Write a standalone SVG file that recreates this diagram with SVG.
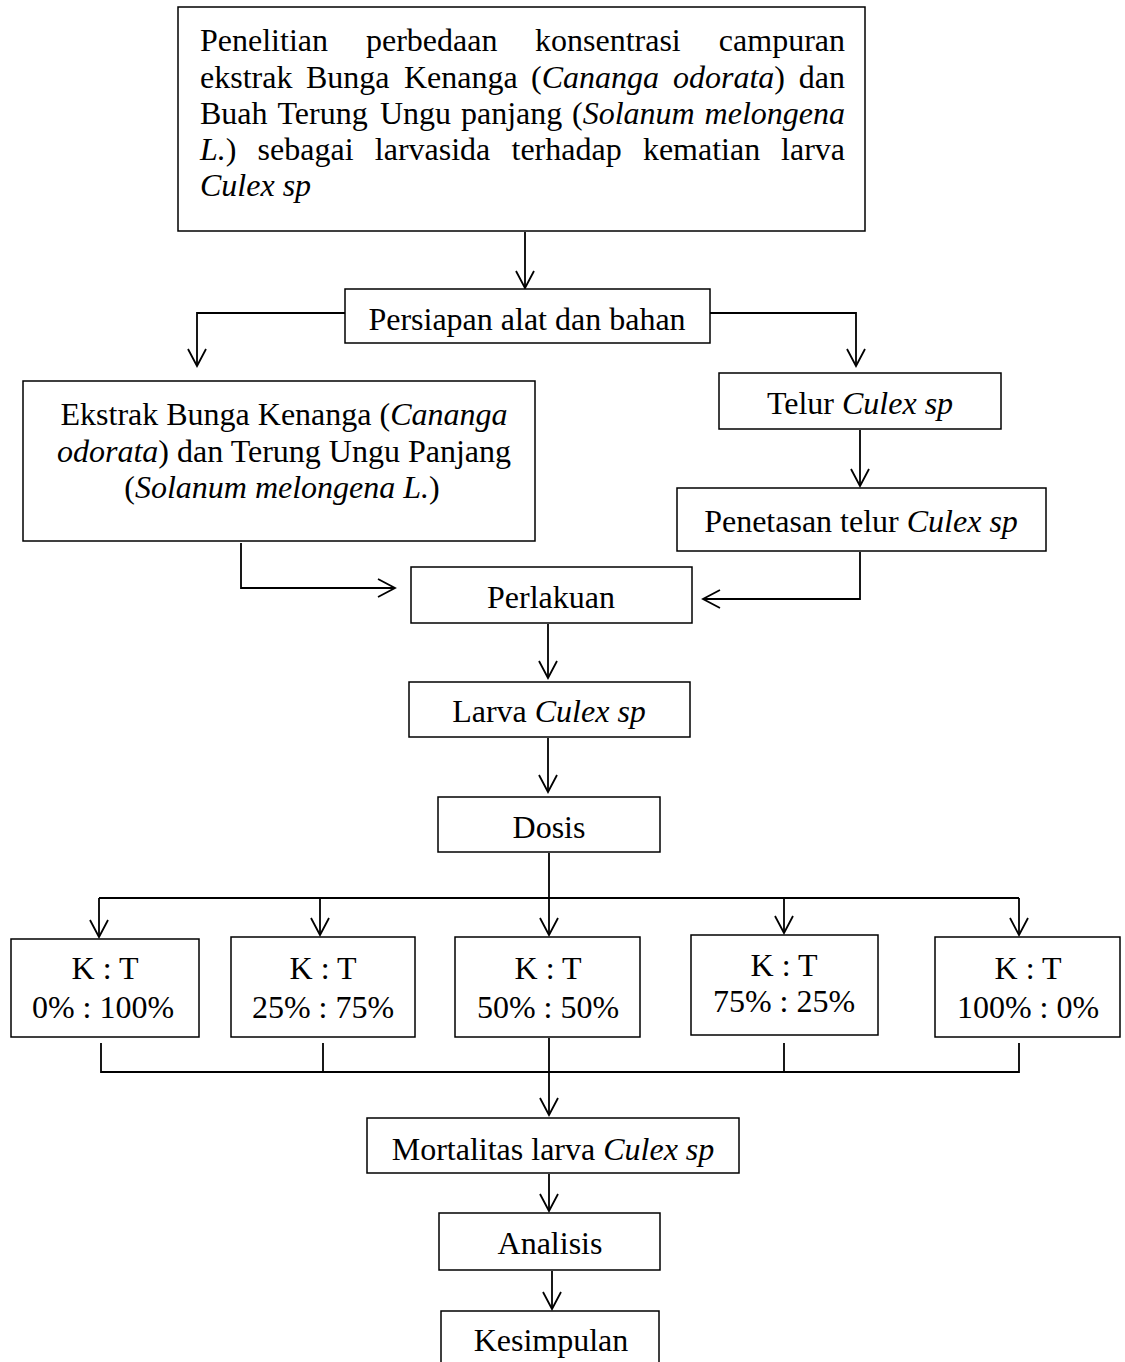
<svg xmlns="http://www.w3.org/2000/svg" width="1125" height="1362" viewBox="0 0 1125 1362">
<style>
.box{fill:#fff;stroke:#000;stroke-width:1.5}
text{font-family:"Liberation Serif","Times New Roman",serif;font-size:32px;fill:#000}
.c{text-anchor:middle}
.e{text-anchor:end}
.i{font-style:italic}
.ln{fill:none;stroke:#000;stroke-width:1.8}
</style>
<defs>
<marker id="ah" markerUnits="userSpaceOnUse" markerWidth="22" markerHeight="22" viewBox="-19 -11 21 22" refX="0" refY="0" orient="auto">
<path d="M-17,-9 L0,0 L-17,9" fill="none" stroke="#000" stroke-width="1.8"/>
</marker>
</defs>
<rect width="1125" height="1362" fill="#fff"/>
<g id="connectors">
<path class="ln" d="M525,232 V288" marker-end="url(#ah)"/>
<path class="ln" d="M345,313 H197 V366" marker-end="url(#ah)"/>
<path class="ln" d="M710,313 H856 V366" marker-end="url(#ah)"/>
<path class="ln" d="M860,430 V486" marker-end="url(#ah)"/>
<path class="ln" d="M241,543 V588 H395" marker-end="url(#ah)"/>
<path class="ln" d="M860,552 V599 H703" marker-end="url(#ah)"/>
<path class="ln" d="M548,624 V678" marker-end="url(#ah)"/>
<path class="ln" d="M548,738 V792" marker-end="url(#ah)"/>
<path class="ln" d="M549,853 V935" marker-end="url(#ah)"/>
<path class="ln" d="M99,898 H1019"/>
<path class="ln" d="M99,898 V937" marker-end="url(#ah)"/>
<path class="ln" d="M320,898 V935" marker-end="url(#ah)"/>
<path class="ln" d="M784,898 V933" marker-end="url(#ah)"/>
<path class="ln" d="M1019,898 V935" marker-end="url(#ah)"/>
<path class="ln" d="M101,1043 V1072 H1019 V1043"/>
<path class="ln" d="M323,1043 V1072"/>
<path class="ln" d="M784,1043 V1072"/>
<path class="ln" d="M549,1038 V1115" marker-end="url(#ah)"/>
<path class="ln" d="M549,1174 V1211" marker-end="url(#ah)"/>
<path class="ln" d="M552,1271 V1309" marker-end="url(#ah)"/>
</g>
<g id="n-top">
<rect class="box" x="178" y="7" width="687" height="224"/>
<text x="200" y="51">Penelitian</text>
<text x="366" y="51">perbedaan</text>
<text x="535" y="51">konsentrasi</text>
<text x="845" y="51" class="e">campuran</text>
<text x="200" y="88">ekstrak</text>
<text x="306" y="88">Bunga</text>
<text x="404" y="88">Kenanga</text>
<text x="531" y="88">(<tspan class="i">Cananga</tspan></text>
<text x="673" y="88"><tspan class="i">odorata</tspan>)</text>
<text x="845" y="88" class="e">dan</text>
<text x="200" y="124">Buah</text>
<text x="277.5" y="124">Terung</text>
<text x="380" y="124">Ungu</text>
<text x="461" y="124">panjang</text>
<text x="572" y="124">(<tspan class="i">Solanum</tspan></text>
<text x="845" y="124" class="e i">melongena</text>
<text x="200" y="160"><tspan class="i">L.</tspan>)</text>
<text x="257.6" y="160">sebagai</text>
<text x="374.8" y="160">larvasida</text>
<text x="511.5" y="160">terhadap</text>
<text x="642.9" y="160">kematian</text>
<text x="845" y="160" class="e">larva</text>
<text x="200" y="196" class="i">Culex sp</text>
</g>
<g id="n-persiapan">
<rect class="box" x="345" y="289" width="365" height="54"/>
<text x="527" y="330" class="c">Persiapan alat dan bahan</text>
</g>
<g id="n-ekstrak">
<rect class="box" x="23" y="381" width="512" height="160"/>
<text x="284" y="425" class="c">Ekstrak Bunga Kenanga (<tspan class="i">Cananga</tspan></text>
<text x="284" y="462" class="c"><tspan class="i">odorata</tspan>) dan Terung Ungu Panjang</text>
<text x="282" y="498" class="c">(<tspan class="i">Solanum melongena L.</tspan>)</text>
</g>
<g id="n-telur">
<rect class="box" x="719" y="373" width="282" height="56"/>
<text x="860" y="414" class="c">Telur <tspan class="i">Culex sp</tspan></text>
</g>
<g id="n-penetasan">
<rect class="box" x="677" y="488" width="369" height="63"/>
<text x="861" y="532" class="c">Penetasan telur <tspan class="i">Culex sp</tspan></text>
</g>
<g id="n-perlakuan">
<rect class="box" x="411" y="567" width="281" height="56"/>
<text x="551" y="608" class="c">Perlakuan</text>
</g>
<g id="n-larva">
<rect class="box" x="409" y="682" width="281" height="55"/>
<text x="549" y="722" class="c">Larva <tspan class="i">Culex sp</tspan></text>
</g>
<g id="n-dosis">
<rect class="box" x="438" y="797" width="222" height="55"/>
<text x="549" y="838" class="c">Dosis</text>
</g>
<g id="n-k1">
<rect class="box" x="11" y="939" width="188" height="98"/>
<text x="105" y="979" class="c">K : T</text>
<text x="103" y="1018" class="c">0% : 100%</text>
</g>
<g id="n-k2">
<rect class="box" x="231" y="937" width="184" height="100"/>
<text x="323" y="979" class="c">K : T</text>
<text x="323" y="1018" class="c">25% : 75%</text>
</g>
<g id="n-k3">
<rect class="box" x="455" y="937" width="185" height="100"/>
<text x="548" y="979" class="c">K : T</text>
<text x="548" y="1018" class="c">50% : 50%</text>
</g>
<g id="n-k4">
<rect class="box" x="691" y="935" width="187" height="100"/>
<text x="784" y="976" class="c">K : T</text>
<text x="784" y="1012" class="c">75% : 25%</text>
</g>
<g id="n-k5">
<rect class="box" x="935" y="937" width="185" height="100"/>
<text x="1028" y="979" class="c">K : T</text>
<text x="1028" y="1018" class="c">100% : 0%</text>
</g>
<g id="n-mortalitas">
<rect class="box" x="367" y="1118" width="372" height="55"/>
<text x="553" y="1160" class="c">Mortalitas larva <tspan class="i">Culex sp</tspan></text>
</g>
<g id="n-analisis">
<rect class="box" x="439" y="1213" width="221" height="57"/>
<text x="550" y="1254" class="c">Analisis</text>
</g>
<g id="n-kesimpulan">
<rect class="box" x="441" y="1311" width="218" height="60"/>
<text x="551" y="1351" class="c">Kesimpulan</text>
</g>
</svg>
